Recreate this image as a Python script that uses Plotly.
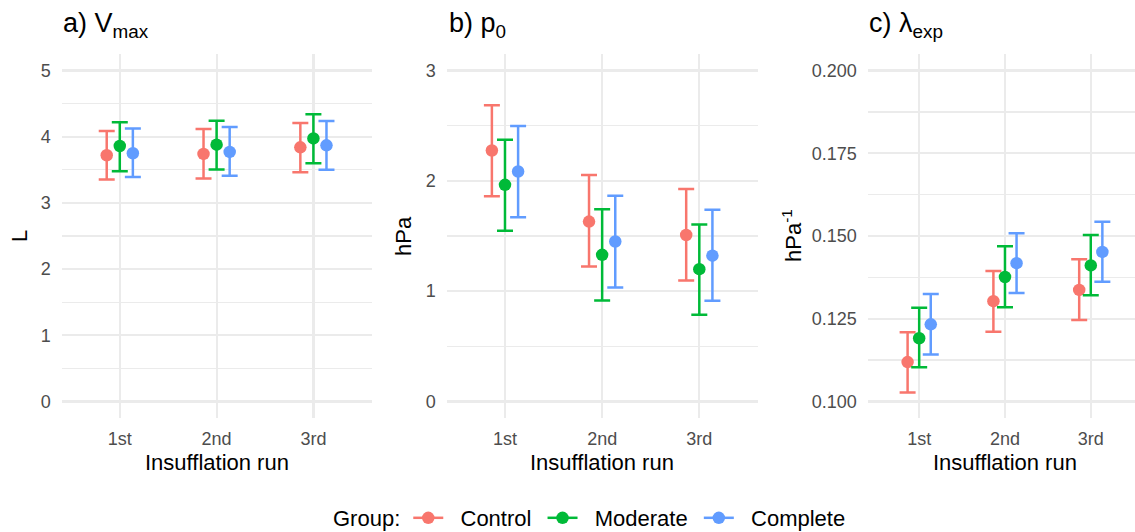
import plotly.graph_objects as go

# ---------------- data ----------------
runs = ["1st", "2nd", "3rd"]
groups = ["Control", "Moderate", "Complete"]
colors = ["#F8766D", "#00BA38", "#619CFF"]

# a) V_max (L) — per group, per run
vmax_mean = [[3.72, 3.74, 3.84], [3.86, 3.88, 3.975], [3.75, 3.77, 3.87]]
vmax_low = [[3.354, 3.37, 3.465], [3.48, 3.505, 3.60], [3.39, 3.41, 3.50]]
vmax_high = [[4.086, 4.116, 4.207], [4.22, 4.24, 4.338], [4.126, 4.146, 4.237]]

# b) p0 (hPa)
p0_mean = [[2.275, 1.631, 1.509], [1.964, 1.329, 1.199], [2.085, 1.450, 1.322]]
p0_low = [[1.861, 1.224, 1.096], [1.547, 0.915, 0.786], [1.671, 1.033, 0.913]]
p0_high = [[2.686, 2.054, 1.927], [2.372, 1.743, 1.605], [2.498, 1.864, 1.737]]

# c) lambda_exp (hPa^-1)
lam_mean = [[0.1119, 0.1303, 0.1337], [0.1191, 0.1376, 0.1411], [0.1233, 0.1418, 0.1452]]
lam_low = [[0.1027, 0.1211, 0.1246], [0.1103, 0.1285, 0.1321], [0.1142, 0.1328, 0.1362]]
lam_high = [[0.1209, 0.1394, 0.1430], [0.1283, 0.1469, 0.1503], [0.1325, 0.1508, 0.1543]]

DODGE = 0.135
FONT = "Liberation Sans, Arial, sans-serif"
W, H = 1135, 532
NB = "\u00a0"

fig = go.Figure()

panels = [
    ("x", "y", vmax_mean, vmax_low, vmax_high),
    ("x2", "y2", p0_mean, p0_low, p0_high),
    ("x3", "y3", lam_mean, lam_low, lam_high),
]
offsets = [-DODGE, 0.0, DODGE]

for xa, ya, mean, low, high in panels:
    for gi, g in enumerate(groups):
        xs = [i + 1 + offsets[gi] for i in range(len(runs))]
        m = mean[gi]
        fig.add_trace(go.Scatter(
            x=xs, y=m, xaxis=xa, yaxis=ya, mode="markers",
            marker=dict(color=colors[gi], size=12.5),
            error_y=dict(type="data", symmetric=False,
                         array=[h - v for h, v in zip(high[gi], m)],
                         arrayminus=[v - l for v, l in zip(m, low[gi])],
                         color=colors[gi], thickness=2.5, width=8),
            showlegend=False, hoverinfo="skip"))

# legend entries
for gi, g in enumerate(groups):
    fig.add_trace(go.Scatter(
        x=[None], y=[None], mode="lines+markers", name=NB * 2 + g + NB,
        line=dict(color=colors[gi], width=2.5),
        marker=dict(color=colors[gi], size=12.5), showlegend=True))

def px_x(p):
    return p / W

def px_y(p):
    return 1 - p / H

ydom = [px_y(418), px_y(54)]
xdoms = [[px_x(61.7), px_x(371.5)], [px_x(446.7), px_x(757.6)], [px_x(867.7), 1.0]]
xranges = [[0.4, 3.6], [0.4, 3.6], [0.4, 0.4 + (1135 - 867.7) / 85.8]]
yranges = [[-0.25, 5.25], [-0.15, 3.15], [0.095, 0.205]]
ydticks = [1, 1, 0.025]
yformats = ["", "", ".3f"]
ytick0 = [0, 0, 0.1]

grid = "#EBEBEB"
tickfont = dict(family=FONT, size=18, color="#4D4D4D")

layout = dict(
    width=W, height=H,
    margin=dict(l=0, r=0, t=0, b=0, autoexpand=False),
    paper_bgcolor="white", plot_bgcolor="white",
    font=dict(family=FONT, size=18, color="black"),
)
for i in range(3):
    sx = "" if i == 0 else str(i + 1)
    layout["xaxis" + sx] = dict(
        domain=xdoms[i], range=xranges[i], anchor="y" + sx,
        tickmode="array", tickvals=[1, 2, 3], ticktext=runs,
        showgrid=True, gridcolor=grid, gridwidth=2.2,
        zeroline=False, showline=False, ticks="", tickfont=tickfont,
        ticklabelstandoff=8, fixedrange=True, automargin=False)
    layout["yaxis" + sx] = dict(
        domain=ydom, range=yranges[i], anchor="x" + sx,
        tick0=ytick0[i], dtick=ydticks[i], tickformat=yformats[i],
        showgrid=True, gridcolor=grid, gridwidth=2.2,
        minor=dict(dtick=ydticks[i] / 2, tick0=ytick0[i], showgrid=True,
                   gridcolor=grid, gridwidth=1.2),
        zeroline=False, showline=False, ticks="", tickfont=tickfont,
        ticklabelstandoff=10, fixedrange=True, automargin=False)

layout["legend"] = dict(
    orientation="h", x=px_x(594), xanchor="center", y=px_y(518), yanchor="middle",
    title=dict(text="Group:", font=dict(family=FONT, size=22, color="black"), side="left"),
    font=dict(family=FONT, size=22, color="black"),
    itemwidth=30, tracegroupgap=0, bgcolor="rgba(0,0,0,0)")

annotations = []
titles = ["a) V<sub>max</sub>", "b) p<sub>0</sub>", "c) λ<sub>exp</sub>"]
title_x = [61, 446.7, 867]
for t, tx in zip(titles, title_x):
    annotations.append(dict(text=t, x=px_x(tx), y=px_y(25), xref="paper", yref="paper",
                            xanchor="left", yanchor="middle", showarrow=False,
                            font=dict(family=FONT, size=27, color="black")))
xt_centers = [216.6, 602.2, 1005]
for cx in xt_centers:
    annotations.append(dict(text="Insufflation run", x=px_x(cx), y=px_y(462),
                            xref="paper", yref="paper", xanchor="center", yanchor="middle",
                            showarrow=False, font=dict(family=FONT, size=22, color="black")))
ytitles = ["L", "hPa", "hPa<sup>-1</sup>"]
yt_x = [20, 404, 792]
for t, tx in zip(ytitles, yt_x):
    annotations.append(dict(text=t, x=px_x(tx), y=px_y(236), xref="paper", yref="paper",
                            xanchor="center", yanchor="middle", textangle=-90,
                            showarrow=False, font=dict(family=FONT, size=22, color="black")))
layout["annotations"] = annotations

fig.update_layout(**layout)
fig.write_html("out.html",
               config={"displayModeBar": False, "staticPlot": True},
               post_script="document.body.style.margin='0px';document.body.style.overflow='hidden';")
